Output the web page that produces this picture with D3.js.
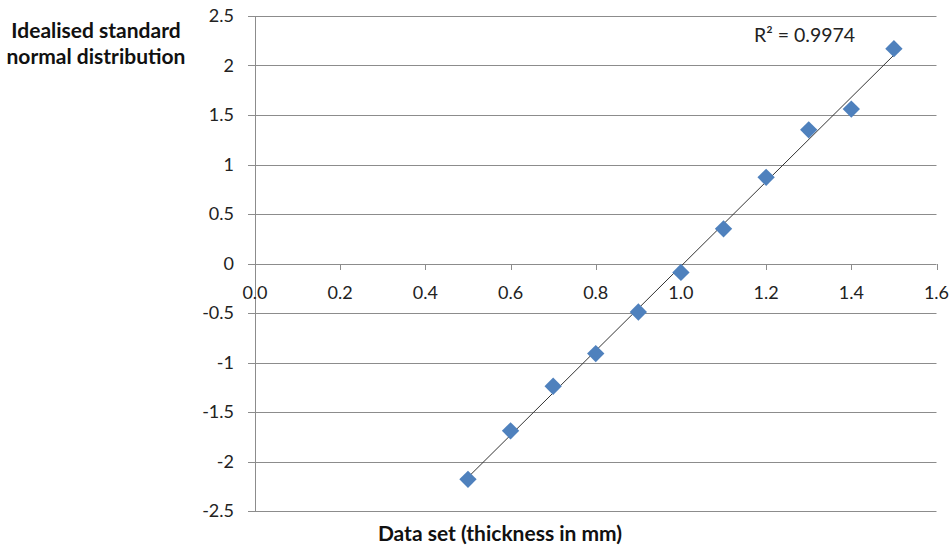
<!DOCTYPE html>
<html><head><meta charset="utf-8">
<script src="https://cdn.jsdelivr.net/npm/d3@7"></script>
<style>body{margin:0;background:#fff}svg{display:block}text{font-family:Lato,"Open Sans",sans-serif}</style>
</head><body>
<svg id="c" width="952" height="549"></svg>
<script>
const thickness = [0.5,0.6,0.7,0.8,0.9,1.0,1.1,1.2,1.3,1.4,1.5];
const zScore = [-2.18,-1.69,-1.24,-0.91,-0.49,-0.09,0.35,0.87,1.35,1.56,2.17];
const xTicks = [0,0.2,0.4,0.6,0.8,1.0,1.2,1.4,1.6];
const yTicks = [2.5,2,1.5,1,0.5,0,-0.5,-1,-1.5,-2,-2.5];
const r2Label = "R\u00B2 = 0.9974";
const yTitle = ["Idealised standard","normal distribution"];
const xTitle = "Data set (thickness in mm)";

const svg = d3.select("#c");
const x = d3.scaleLinear().domain([0,1.6]).range([255,936.5]);
const y = d3.scaleLinear().domain([-2.5,2.5]).range([511,16]);
const grid = "#8c8c8c";

svg.append("g").selectAll("line").data(yTicks).join("line")
  .attr("x1",248).attr("x2",936.5)
  .attr("y1",d=>Math.round(y(d))+0.5).attr("y2",d=>Math.round(y(d))+0.5)
  .attr("stroke",grid).attr("stroke-width",1);
svg.append("line").attr("x1",255.5).attr("x2",255.5).attr("y1",Math.round(y(2.5))+0.5).attr("y2",Math.round(y(-2.5))+0.5)
  .attr("stroke",grid);
svg.append("g").selectAll("line").data(xTicks).join("line")
  .attr("x1",d=>Math.round(x(d))+0.5).attr("x2",d=>Math.round(x(d))+0.5)
  .attr("y1",Math.round(y(0))).attr("y2",Math.round(y(0))+6)
  .attr("stroke",grid);

svg.append("g").selectAll("text").data(yTicks).join("text")
  .attr("x",234).attr("y",d=>y(d)+6).attr("text-anchor","end")
  .attr("font-size",18).attr("fill","#222").text(d=>d);
svg.append("g").selectAll("text").data(xTicks).join("text")
  .attr("x",d=>x(d)).attr("y",y(0)+35).attr("text-anchor","middle")
  .attr("font-size",18).attr("fill","#222").text(d=>d.toFixed(1));

const mx = d3.mean(thickness), my = d3.mean(zScore);
let sxy=0,sxx=0;
thickness.forEach((v,i)=>{sxy+=(v-mx)*(zScore[i]-my);sxx+=(v-mx)*(v-mx);});
const slope = sxy/sxx, icpt = my - slope*mx;
const x0 = d3.min(thickness), x1 = d3.max(thickness);
svg.append("line").attr("x1",x(x0)).attr("y1",y(icpt+slope*x0))
  .attr("x2",x(x1)).attr("y2",y(icpt+slope*x1))
  .attr("stroke","#333").attr("stroke-width",1);

svg.append("g").selectAll("path").data(thickness).join("path")
  .attr("d",d3.symbol(d3.symbolSquare,150)())
  .attr("transform",(d,i)=>`translate(${x(d)},${y(zScore[i])}) rotate(45)`)
  .attr("fill","#4f81bd");

svg.append("text").attr("x",754).attr("y",42).attr("font-size",19.5).attr("fill","#222").text(r2Label);

svg.append("g").selectAll("text").data(yTitle).join("text")
  .attr("x",96).attr("y",(d,i)=>38+i*26).attr("text-anchor","middle")
  .attr("font-size",21).attr("font-weight","bold").attr("fill","#111").text(d=>d);
svg.append("text").attr("x",500).attr("y",541).attr("text-anchor","middle")
  .attr("font-size",21).attr("font-weight","bold").attr("fill","#111").text(xTitle);
</script>
</body></html>
